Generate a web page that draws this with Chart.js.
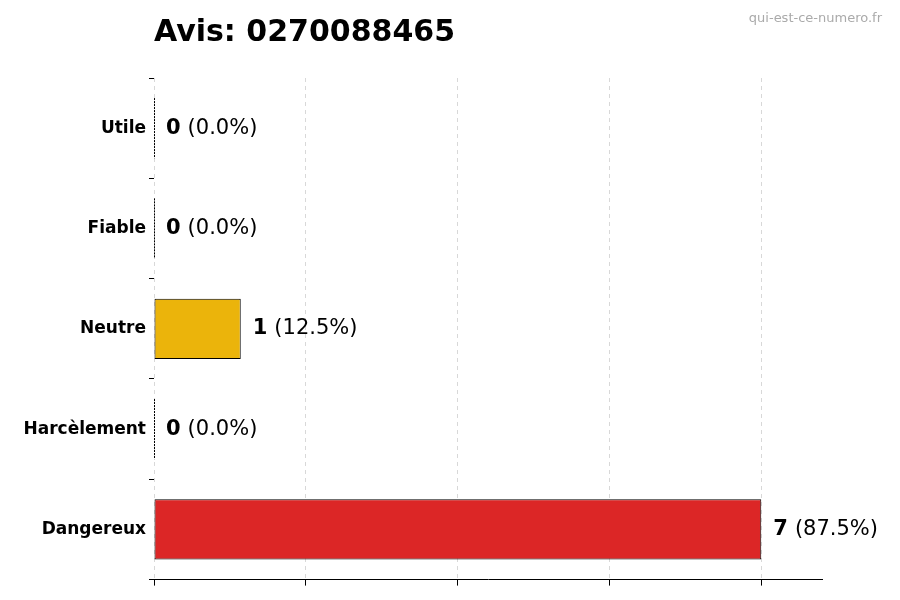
<!DOCTYPE html>
<html><head><meta charset="utf-8">
<script src="https://cdn.jsdelivr.net/npm/chart.js@4/dist/chart.umd.min.js"></script>
<style>body{margin:0;background:#fff}#w{width:900px;height:600px}</style>
</head><body><div id="w"><canvas id="c"></canvas></div>
<script>
const categories = ["Utile","Fiable","Neutre","Harcèlement","Dangereux"];
const counts = [0,0,1,0,7];
const percents = ["0.0%","0.0%","12.5%","0.0%","87.5%"];
const colors = ["#888888","#888888","#ebb40b","#888888","#dc2626"];
const xTicks = [0,1.75,3.5,5.25,7];

const overlay = {
  id:'overlay',
  afterDatasetsDraw(chart){
    const {ctx} = chart;
    const meta = chart.getDatasetMeta(0);
    ctx.save();
    ctx.textBaseline='middle';
    meta.data.forEach((bar,i)=>{
      if(counts[i]===0){
        ctx.strokeStyle='#000';ctx.lineWidth=1;ctx.setLineDash([2,1]);
        ctx.beginPath();ctx.moveTo(bar.x+0.5,bar.y-bar.height/2);ctx.lineTo(bar.x+0.5,bar.y+bar.height/2);ctx.stroke();
        ctx.setLineDash([]);
      }
      let x = bar.x + 12, y = bar.y;
      ctx.font='bold 21px "DejaVu Sans"'; ctx.fillStyle='#000';
      const n = String(counts[i]);
      ctx.fillText(n,x,y);
      x += ctx.measureText(n).width + 7;
      ctx.font='21px "DejaVu Sans"';
      ctx.fillText('('+percents[i]+')',x,y);
    });
    ctx.font='bold 30px "DejaVu Sans"'; ctx.textBaseline='alphabetic';
    ctx.fillText('Avis: 0270088465',154,41);
    ctx.font='13px "DejaVu Sans"'; ctx.fillStyle='#aaaaaa'; ctx.textAlign='right';
    ctx.fillText('qui-est-ce-numero.fr',882,22);
    ctx.restore();
  }
};

new Chart(document.getElementById('c'),{
  type:'bar',
  data:{labels:categories,datasets:[{data:counts,backgroundColor:colors,borderColor:'#000',borderWidth:1,borderSkipped:false,barPercentage:0.6,categoryPercentage:1}]},
  options:{
    indexAxis:'y',responsive:true,maintainAspectRatio:false,animation:false,
    layout:{padding:{top:78,right:78,bottom:0,left:0}},
    plugins:{legend:{display:false},tooltip:{enabled:false}},
    scales:{
      x:{min:0,max:7.7,afterBuildTicks(a){a.ticks=xTicks.map(v=>({value:v}));},
        ticks:{callback:()=>'',padding:0},
        grid:{color:'#d8d8d8',tickColor:'#000',tickLength:6,drawTicks:true},
        border:{color:'#000',dash:[4,4]}},
      y:{afterFit(s){s.width=154;},grid:{drawOnChartArea:false,drawTicks:true,tickLength:5,tickColor:'#000'},border:{display:false},
        ticks:{color:'#000',padding:3,font:{family:'DejaVu Sans',size:17,weight:'bold'}}}
    }
  },
  plugins:[overlay]
});
</script></body></html>
